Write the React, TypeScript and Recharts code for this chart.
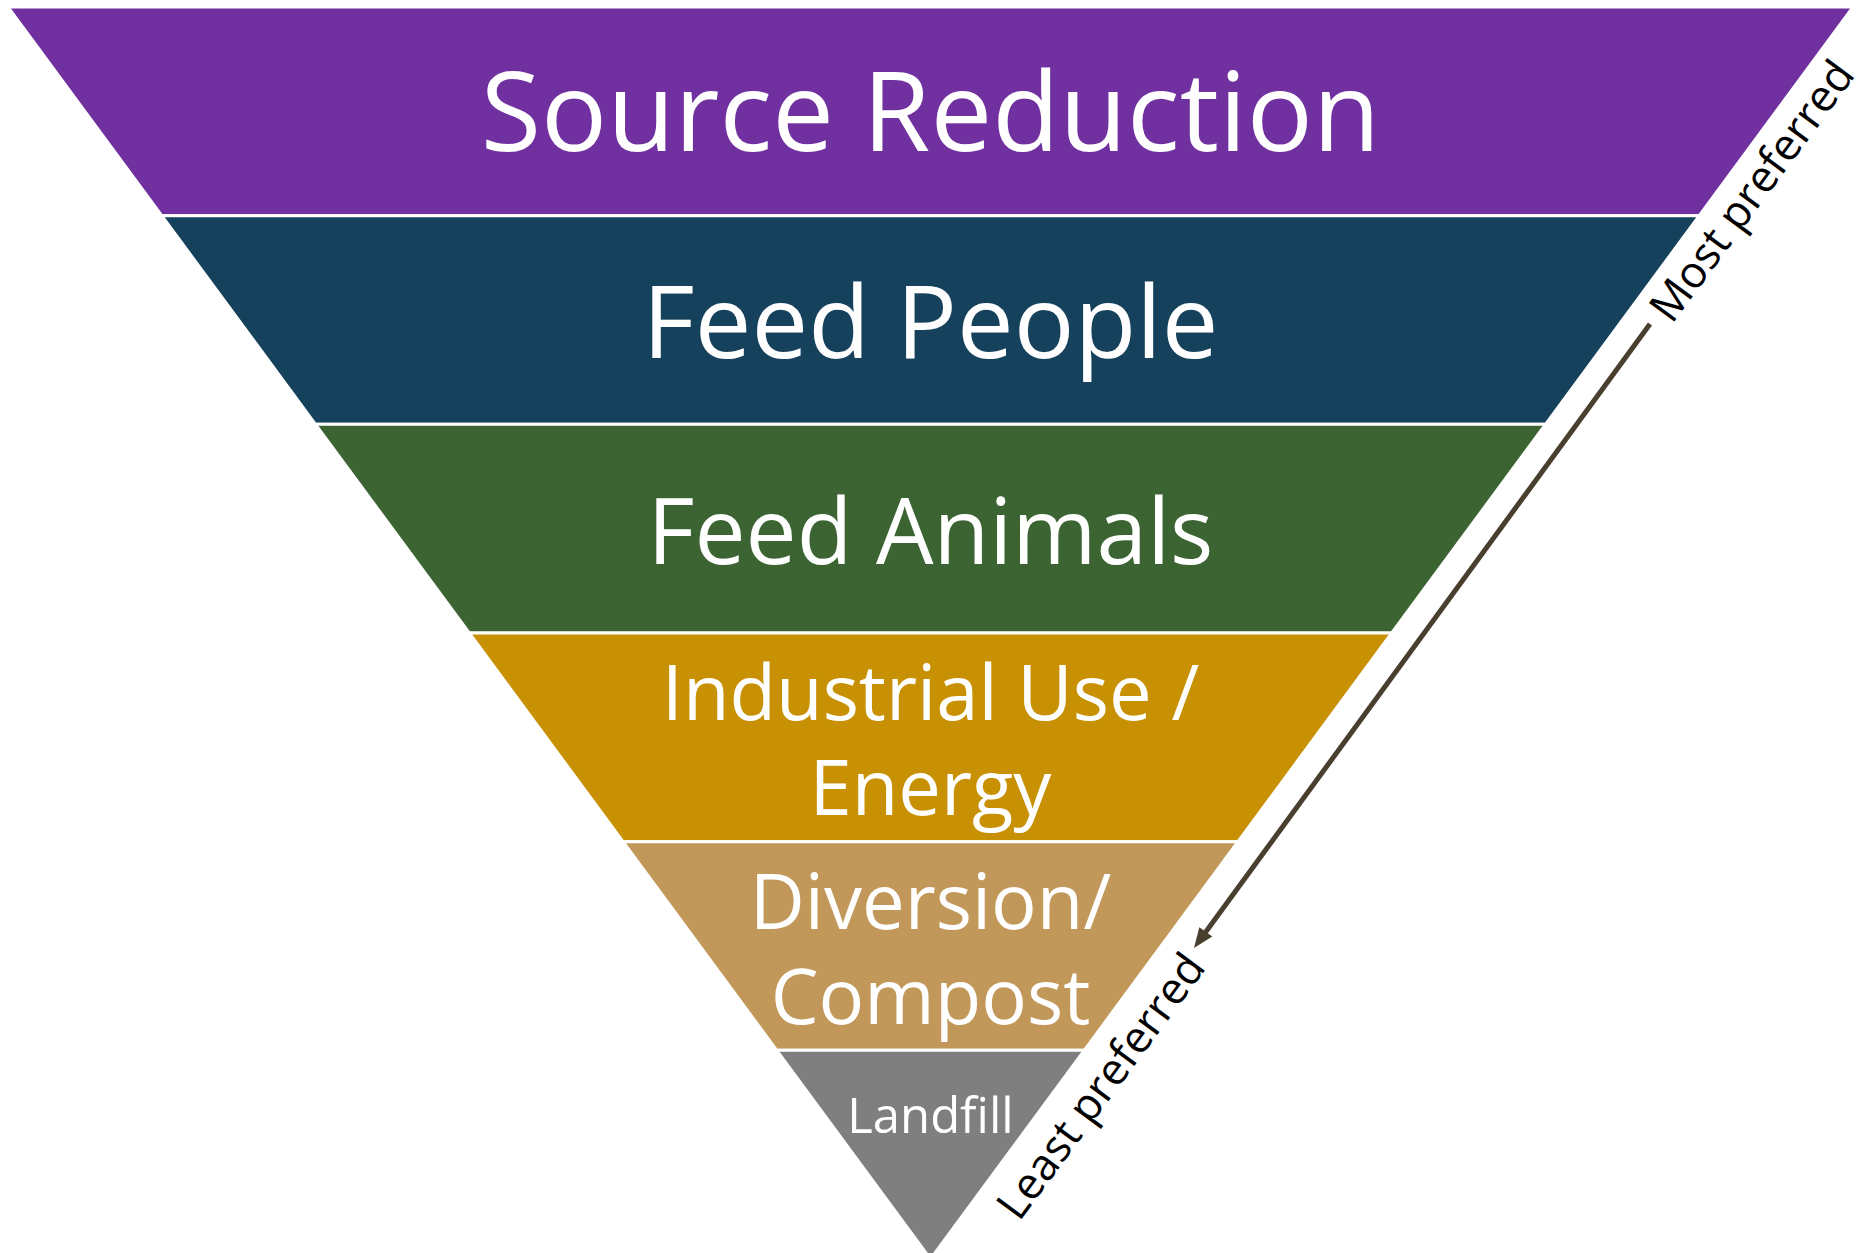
import React from 'react';
import { FunnelChart, Funnel, Cell, Trapezoid } from 'recharts';

// food recovery hierarchy, most preferred at the top
const tiers = [
  'Source Reduction',
  'Feed People',
  'Feed Animals',
  'Industrial Use /\nEnergy',
  'Diversion/\nCompost',
  'Landfill',
];
const rank = [6, 5, 4, 3, 2, 1];
const colors = ['#7030a0', '#16415c', '#3c6432', '#c89104', '#c2985a', '#7f7f7f'];

const data = tiers.map((name, i) => ({ name, value: rank[i] }));

// label styling per tier
const fontSizes = [110, 101, 91, 76, 76, 49];
const baselineShift = [40, 38, 35, -17, -17, -22];
const lineGap = 95;

const FONT = '"Open Sans", "Noto Sans", sans-serif';

const TierShape = (props: any) => {
  const { x, y, upperWidth, height } = props;
  const name = props.name ?? props.payload?.name;
  const i = tiers.indexOf(name);
  const cx = x + upperWidth / 2;
  const cy = y + height / 2 + (baselineShift[i] ?? 0);
  const lines = String(name).split('\n');
  return (
    <g>
      <Trapezoid {...props} />
      {lines.map((ln, k) => (
        <text
          key={k}
          x={cx}
          y={cy + k * lineGap}
          textAnchor="middle"
          fill="#fff"
          fontFamily={FONT}
          fontSize={fontSizes[i]}
        >
          {ln}
        </text>
      ))}
    </g>
  );
};

const angle = -53.6;
const arrowFrom = { x: 1650, y: 324 };
const arrowTo = { x: 1194, y: 948 };

const Arrow = () => {
  const dx = arrowTo.x - arrowFrom.x;
  const dy = arrowTo.y - arrowFrom.y;
  const len = Math.hypot(dx, dy);
  const ux = dx / len;
  const uy = dy / len;
  const headL = 20;
  const headW = 8;
  const bx = arrowTo.x - ux * headL;
  const by = arrowTo.y - uy * headL;
  const pts = [
    `${arrowTo.x},${arrowTo.y}`,
    `${bx - uy * headW},${by + ux * headW}`,
    `${bx + uy * headW},${by - ux * headW}`,
  ].join(' ');
  return (
    <g>
      <line x1={arrowFrom.x} y1={arrowFrom.y} x2={bx + ux * 2} y2={by + uy * 2} stroke="#483f2e" strokeWidth={5} />
      <polygon points={pts} fill="#483f2e" />
    </g>
  );
};

export default function App() {
  return (
    <div style={{ position: 'absolute', left: 0, top: 0, width: 1870, height: 1253, overflow: 'hidden', background: '#fff' }}>
      <div style={{ position: 'absolute', left: 8, top: 6.5 }}>
        <FunnelChart width={1845} height={1252} margin={{ top: 0, right: 0, bottom: 0, left: 0 }}>
          <Funnel
            dataKey="value"
            nameKey="name"
            data={data}
            lastShapeType="triangle"
            stroke="#fff"
            strokeWidth={3}
            shape={TierShape}
            isAnimationActive={false}
          >
            {data.map((d, i) => (
              <Cell key={d.name} fill={colors[i]} />
            ))}
          </Funnel>
        </FunnelChart>
      </div>
      <svg width={1870} height={1253} style={{ position: 'absolute', left: 0, top: 0, pointerEvents: 'none' }}>
        <Arrow />
        <text x={1764} y={200} textAnchor="middle" fontFamily={FONT} fontSize={44} fill="#000" transform={`rotate(${angle} 1764 200)`}>
          Most preferred
        </text>
        <text x={1113} y={1095} textAnchor="middle" fontFamily={FONT} fontSize={44} fill="#000" transform={`rotate(${angle} 1113 1095)`}>
          Least preferred
        </text>
      </svg>
    </div>
  );
}
